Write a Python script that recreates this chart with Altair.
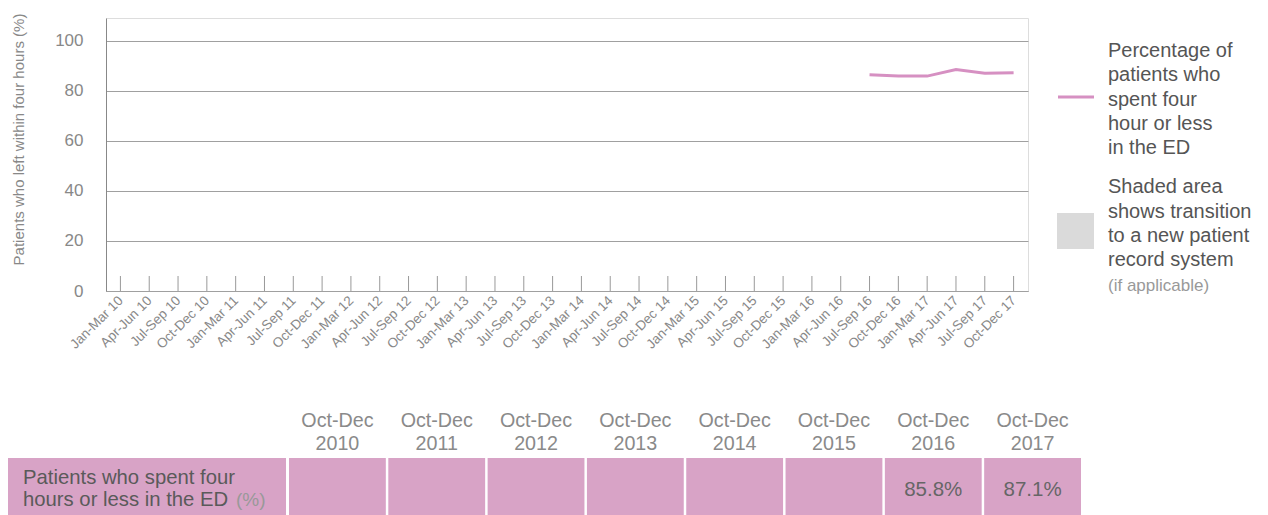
import altair as alt
import pandas as pd

# ---------------- data ----------------
quarters = [
    "Jan-Mar 10", "Apr-Jun 10", "Jul-Sep 10", "Oct-Dec 10",
    "Jan-Mar 11", "Apr-Jun 11", "Jul-Sep 11", "Oct-Dec 11",
    "Jan-Mar 12", "Apr-Jun 12", "Jul-Sep 12", "Oct-Dec 12",
    "Jan-Mar 13", "Apr-Jun 13", "Jul-Sep 13", "Oct-Dec 13",
    "Jan-Mar 14", "Apr-Jun 14", "Jul-Sep 14", "Oct-Dec 14",
    "Jan-Mar 15", "Apr-Jun 15", "Jul-Sep 15", "Oct-Dec 15",
    "Jan-Mar 16", "Apr-Jun 16", "Jul-Sep 16", "Oct-Dec 16",
    "Jan-Mar 17", "Apr-Jun 17", "Jul-Sep 17", "Oct-Dec 17",
]
line_quarters = ["Jul-Sep 16", "Oct-Dec 16", "Jan-Mar 17", "Apr-Jun 17", "Jul-Sep 17", "Oct-Dec 17"]
line_values = [86.3, 85.8, 85.8, 88.4, 86.9, 87.1]
y_ticks = [0, 20, 40, 60, 80, 100]

table_years = ["2010", "2011", "2012", "2013", "2014", "2015", "2016", "2017"]
table_values = [None, None, None, None, None, None, 85.8, 87.1]

legend_line_label = ["Percentage of", "patients who", "spent four", "hour or less", "in the ED"]
legend_area_label = ["Shaded area", "shows transition", "to a new patient", "record system"]
legend_area_note = "(if applicable)"
row_label = ["Patients who spent four", "hours or less in the ED"]
row_unit = "(%)"
y_title = "Patients who left within four hours (%)"

# ---------------- styling ----------------
W, H = 922, 273
FONT = "Liberation Sans"
PINK = "#d690c2"
CELL = "#d8a3c6"
GRID = "#a0a0a0"

xscale = alt.Scale(type="point", domain=quarters, padding=0.5)
yscale = alt.Scale(domain=[0, 109], nice=False, zero=True)
xaxis = alt.Axis(title=None, labelAngle=-45, labelAlign="right", labelBaseline="middle",
                 labelFontSize=13.5, labelColor="#888", labelPadding=7, labelFont=FONT,
                 ticks=False, domain=True, domainColor=GRID, grid=False, labelOverlap=False)

line_df = pd.DataFrame({"quarter": line_quarters, "pct": line_values})
tick_df = pd.DataFrame({"quarter": quarters})
one = pd.DataFrame({"k": [0]})

line = alt.Chart(line_df).mark_line(color=PINK, strokeWidth=3).encode(
    x=alt.X("quarter:N", scale=xscale, sort=quarters, axis=xaxis),
    y=alt.Y("pct:Q", scale=yscale,
            axis=alt.Axis(values=y_ticks, title=y_title, titleFont=FONT, titleFontSize=15,
                          titleFontWeight="normal", titleColor="#888", titleX=-88, titleY=121,
                          titleAlign="center", titleBaseline="middle", titleAngle=-90,
                          labelFontSize=17, labelColor="#888", labelFont=FONT, labelPadding=23,
                          ticks=False, domain=True, domainColor="#888", grid=True, gridColor=GRID)),
)

ticks = alt.Chart(tick_df).mark_rule(color="#999", strokeWidth=1).encode(
    x=alt.X("quarter:N", scale=xscale, sort=quarters, axis=xaxis),
    y=alt.value(H), y2=alt.value(H - 15),
)

leg_line = alt.Chart(one).mark_rule(color=PINK, strokeWidth=3).encode(
    x=alt.value(952), x2=alt.value(988), y=alt.value(79))
leg_sq = alt.Chart(one).mark_rect(color="#dadada").encode(
    x=alt.value(951), x2=alt.value(988), y=alt.value(195), y2=alt.value(231))
leg_t1 = alt.Chart(one).mark_text(text="\n".join(legend_line_label), lineBreak="\n", lineHeight=24.2,
                                  align="left", baseline="alphabetic", fontSize=20, color="#555",
                                  font=FONT).encode(x=alt.value(1002), y=alt.value(39.3))
leg_t2 = alt.Chart(one).mark_text(text="\n".join(legend_area_label), lineBreak="\n", lineHeight=24.4,
                                  align="left", baseline="alphabetic", fontSize=20, color="#555",
                                  font=FONT).encode(x=alt.value(1002), y=alt.value(175.3))
leg_t3 = alt.Chart(one).mark_text(text=legend_area_note, align="left", baseline="alphabetic",
                                  fontSize=17, color="#999", font=FONT).encode(
    x=alt.value(1002), y=alt.value(273))

main = alt.layer(line, ticks, leg_line, leg_sq, leg_t1, leg_t2, leg_t3)

# ---------------- table ----------------
table_df = pd.DataFrame({
    "year": table_years,
    "header": ["Oct-Dec\n" + y for y in table_years],
    "value": table_values,
})
tx = alt.Scale(type="band", domain=table_years, range=[183, 975], paddingInner=0.025, paddingOuter=0)

cells = alt.Chart(table_df).mark_rect(color=CELL).encode(
    x=alt.X("year:N", scale=tx, axis=None), y=alt.value(440), y2=alt.value(510))
headers = alt.Chart(table_df).mark_text(lineBreak="\n", lineHeight=23.3, baseline="alphabetic",
                                        fontSize=19.7, color="#8a8a8a", font=FONT).encode(
    x=alt.X("year:N", scale=tx, axis=None), y=alt.value(408.7), text="header:N")
vals = alt.Chart(table_df).transform_filter("isValid(datum.value)").transform_calculate(
    label="format(datum.value, '.1f') + '%'"
).mark_text(baseline="alphabetic", fontSize=20.5, color="#666", font=FONT).encode(
    x=alt.X("year:N", scale=tx, axis=None), y=alt.value(478), text="label:N")
label_cell = alt.Chart(one).mark_rect(color=CELL).encode(
    x=alt.value(-98), x2=alt.value(180), y=alt.value(440), y2=alt.value(510))
label_text = alt.Chart(one).mark_text(text="\n".join(row_label), lineBreak="\n", lineHeight=21.7,
                                      align="left", baseline="alphabetic", fontSize=20.3,
                                      color="#5a5a5a", font=FONT).encode(
    x=alt.value(-83), y=alt.value(466))
label_unit = alt.Chart(one).mark_text(text=row_unit, align="left", baseline="alphabetic",
                                      fontSize=19, color="#999", font=FONT).encode(
    x=alt.value(130), y=alt.value(487.7))

table = alt.layer(cells, headers, vals, label_cell, label_text, label_unit)

chart = alt.layer(main, table).resolve_scale(x="independent").properties(
    width=W, height=H,
    padding={"left": 98, "top": 10, "right": 232, "bottom": 224},
    autosize=alt.AutoSizeParams(type="none"),
).configure_view(stroke=None).configure(font=FONT, background="white")

chart.save("out.html", embed_options={"renderer": "svg", "actions": False})
